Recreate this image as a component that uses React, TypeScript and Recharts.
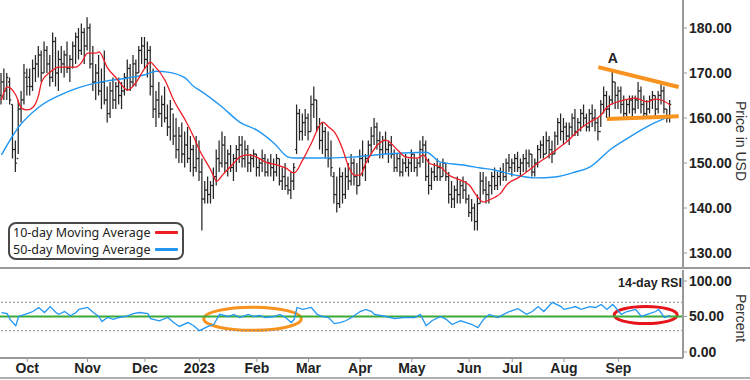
import {
  ComposedChart,
  Bar,
  Line,
  XAxis,
  YAxis,
  ReferenceLine,
  ReferenceArea,
  ReferenceDot,
} from 'recharts';

// daily OHLC, mid Sep 2022 -> mid Sep 2023
const highs = [
  170, 171, 170, 169, 163, 155, 164, 166, 172, 171,
  171, 173, 174, 176, 175, 177, 176, 174, 179, 178,
  175, 176, 175, 177, 174, 177, 179, 180, 181, 180,
  182.4, 181, 176, 172, 174, 171, 175, 167, 168, 169,
  168, 169, 168, 170, 173, 172, 174, 173, 176, 178,
  178, 177, 176, 171, 166, 168, 165, 167, 163, 164,
  161, 160, 158, 159, 157, 158, 156, 154, 156, 155,
  151, 146, 147, 146, 149, 153, 155, 157, 156, 153,
  154, 152, 154, 156, 156, 155, 154, 152, 153, 152,
  151, 153, 152, 151, 152, 151, 152, 151, 149, 150,
  147, 148, 150, 163, 162, 161, 162, 161, 165, 167,
  164, 160, 159, 158, 157, 155, 148, 147, 149, 148,
  149, 150, 152, 151, 150, 153, 155, 152, 155, 158,
  160, 159, 157, 156, 157, 155, 156, 153, 152, 152,
  151, 152, 151, 153, 152, 151, 155, 156, 155, 151,
  149, 150, 151, 150, 151, 150, 148, 146, 145, 147,
  146, 147, 146, 143, 142, 141, 143, 148, 148, 147,
  146, 148, 149, 148, 149, 150, 151, 152, 151, 152,
  152.5, 151, 152, 153, 153, 152, 151, 154, 155, 156,
  157, 156, 155, 157, 160, 161, 160, 159, 159, 161,
  162, 160, 162, 163, 161, 162, 163, 162, 160, 164,
  167, 166, 165, 170.5, 168, 167, 167, 165, 164, 165,
  165, 165, 168, 167, 165, 164, 165, 166, 165, 166,
  167.5, 167, 162, 164,
];
const lows = [
  163, 164, 164, 163, 151, 148, 152, 159, 163, 165,
  165, 166, 168, 169, 168, 170, 170, 167, 168, 167,
  166, 170, 169, 170, 168, 171, 172, 173, 174, 172,
  175, 171, 166, 164, 165, 162, 163, 159, 160, 162,
  162, 163, 162, 165, 166, 166, 167, 167, 170, 172,
  171, 169, 165, 160, 158, 160, 158, 159, 156, 155,
  154, 151, 150, 150, 149, 150, 148, 147, 148, 146,
  135, 141, 141, 141, 142, 145, 148, 149, 148, 147,
  148, 146, 148, 150, 149, 149, 148, 148, 149, 147,
  147, 148, 147, 147, 147, 146, 147, 145, 144, 144,
  143, 142, 144, 152, 155, 155, 156, 155, 157, 160,
  157, 153, 152, 151, 149, 147, 141, 139, 140, 141,
  142, 144, 145, 145, 143, 145, 147, 146, 150, 152,
  154, 153, 151, 151, 152, 150, 151, 148, 148, 147,
  147, 148, 147, 148, 148, 147, 149, 150, 146, 143,
  144, 146, 146, 146, 147, 146, 141, 140, 140, 141,
  141, 142, 141, 138, 137, 135, 135, 141, 143, 141,
  141, 143, 144, 144, 145, 146, 146, 148, 147, 148,
  148, 147, 148, 148, 149, 147, 147, 149, 151, 151,
  152, 151, 150, 152, 154, 155, 154, 155, 154, 156,
  156, 156, 157, 158, 157, 157, 158, 157, 155, 158,
  161, 160, 160, 163, 162, 162, 161, 160, 160, 161,
  160, 161, 162, 161, 160, 160, 161, 162, 160, 161,
  163, 161, 159, 159,
];
const opens = [
  165, 168, 166, 168, 163, 153, 151, 162, 164, 169,
  169, 167, 171, 172, 174, 170, 175, 172, 169, 177,
  170, 173, 172, 174, 171, 173, 176, 178, 175, 179,
  176, 180, 172, 168, 170, 166, 168, 164, 161, 166,
  164, 167, 165, 166, 169, 171, 168, 172, 170, 175,
  176, 173, 175, 167, 162, 164, 161, 163, 160, 158,
  162, 156, 153, 156, 152, 154, 151, 153, 149, 151,
  148, 142, 144, 143, 145, 147, 151, 150, 154, 150,
  152, 149, 151, 153, 154, 151, 153, 150, 151, 152,
  149, 150, 151, 148, 150, 149, 148, 151, 146, 147,
  145, 144, 146, 153, 161, 157, 159, 160, 157, 163,
  164, 158, 155, 157, 153, 151, 147, 143, 141, 147,
  143, 147, 146, 150, 147, 145, 151, 149, 151, 154,
  156, 158, 155, 153, 155, 153, 154, 152, 149, 151,
  148, 150, 149, 150, 152, 149, 150, 153, 154, 147,
  145, 148, 147, 149, 147, 150, 147, 143, 142, 144,
  143, 145, 144, 142, 139, 140, 137, 141, 146, 144,
  143, 145, 147, 145, 147, 148, 147, 150, 149, 150,
  151, 149, 150, 151, 150, 152, 148, 150, 153, 154,
  152, 155, 153, 152, 156, 159, 157, 158, 156, 158,
  160, 157, 159, 161, 160, 158, 161, 160, 159, 157,
  163, 165, 162, 164, 168, 165, 166, 163, 161, 163,
  164, 162, 164, 166, 163, 161, 162, 164, 165, 162,
  165, 166, 162, 160,
];
const closes = [
  168, 166, 169, 164, 153, 150, 162, 164, 170, 167,
  167, 171, 172, 174, 170, 175, 172, 169, 177, 170,
  173, 172, 174, 171, 173, 176, 178, 175, 179, 176,
  180, 172, 168, 170, 166, 168, 164, 161, 166, 164,
  167, 165, 166, 169, 171, 168, 172, 170, 175, 176,
  173, 175, 167, 162, 164, 161, 163, 160, 158, 162,
  156, 153, 156, 152, 154, 151, 153, 149, 151, 148,
  142, 144, 143, 145, 147, 151, 150, 154, 150, 152,
  149, 151, 153, 154, 151, 153, 150, 151, 152, 149,
  150, 151, 148, 150, 149, 148, 151, 146, 147, 145,
  144, 146, 149, 161, 157, 159, 160, 157, 163, 164,
  158, 155, 157, 153, 151, 149, 143, 141, 147, 143,
  147, 146, 150, 147, 145, 151, 149, 151, 154, 156,
  158, 155, 153, 155, 153, 154, 152, 149, 151, 148,
  150, 149, 150, 152, 149, 150, 153, 154, 147, 145,
  148, 147, 149, 147, 150, 147, 143, 142, 144, 143,
  145, 144, 142, 139, 140, 137, 141, 146, 144, 143,
  145, 147, 145, 147, 148, 147, 150, 149, 150, 151,
  149, 150, 151, 150, 152, 148, 150, 153, 154, 152,
  155, 153, 152, 156, 159, 157, 158, 156, 158, 160,
  157, 159, 161, 160, 158, 161, 160, 159, 157, 163,
  165, 162, 164, 168, 165, 166, 163, 161, 163, 164,
  162, 164, 166, 163, 161, 162, 164, 165, 162, 165,
  166, 162, 160, 163,
];

// [bar index, value]
const ma10Points = [
  [0, 164], [2, 166.9], [5, 165.1], [7, 162.2], [9, 161.8], [11, 162.4], [13, 165.2],
  [14, 168], [17, 170.2], [20, 171.3], [23, 171.3], [26, 171.3], [28, 172.4], [30, 174.4],
  [33, 174.4], [34, 174.7], [37, 171.1], [40, 168.9], [44, 166.2], [47, 168], [50, 171.1],
  [52, 172.4], [53, 171.8], [57, 168.4], [60, 164], [64, 159.6], [67, 155.8], [69, 152.9],
  [73, 148.4], [75, 146], [77, 147.3], [81, 150], [83, 151.3], [86, 151.8], [89, 151.3],
  [92, 150.2], [96, 149.6], [99, 148.9], [102, 147.8], [105, 150.7], [108, 154.4],
  [112, 159.1], [114, 158], [116, 156.9], [119, 152.9], [121, 149.1], [123, 147.3],
  [125, 147.3], [127, 150], [129, 152.2], [131, 154], [134, 155.1], [138, 152.9],
  [141, 151.3], [145, 151.1], [147, 151.8], [149, 150], [153, 149.1], [156, 147.3],
  [160, 146.2], [163, 145.1], [166, 142.4], [168, 141.3], [170, 141.8], [172, 142.4],
  [174, 143.3], [176, 145.1], [180, 146.7], [183, 148], [187, 150], [190, 151.3],
  [194, 153.3], [197, 154.7], [202, 157.8], [205, 159.1], [209, 160.7], [211, 162.4],
  [216, 163.8], [221, 164.4], [225, 163.6], [228, 164.2], [230, 164], [233, 162.9],
];
const ma50Points = [
  [0, 151.8], [6, 158], [13, 162.4], [23, 165.8], [33, 167.8], [44, 168.9], [50, 169.6],
  [54, 170.4], [58, 170.2], [64, 168.9], [67, 167], [69, 166.2], [77, 162.4], [83, 159.1],
  [89, 157.3], [95, 154.4], [100, 151.3], [102, 151.1], [110, 151.1], [122, 151.3],
  [134, 152], [148, 152.4], [153, 150.2], [160, 149.6], [167, 148.9], [172, 148.4],
  [179, 147.3], [186, 146.7], [193, 146.9], [200, 148], [205, 149.1], [212, 152.9],
  [219, 155.8], [226, 158.4], [233, 160.4],
];
const rsiPoints = [
  [0, 55.6], [2, 54], [3, 46], [5, 37], [6, 50], [9, 54], [11, 57], [13, 62.7], [15, 55.6],
  [17, 64], [19, 55.6], [20, 53], [22, 57], [24, 51], [26, 55.6], [27, 60], [30, 62.7],
  [32, 55.6], [34, 50], [35, 43], [37, 48.6], [39, 46], [41, 48.6], [44, 51], [46, 54],
  [48, 55.6], [51, 54], [52, 47], [55, 44], [58, 48.6], [60, 41.5], [62, 36], [65, 41.5],
  [67, 37], [69, 30], [72, 36], [74, 38.7], [76, 53], [79, 50], [81, 53], [83, 48.6],
  [86, 53], [88, 50], [90, 51.4], [92, 48.6], [95, 50], [97, 53], [99, 48.6], [101, 41.5],
  [102, 46], [103, 62.7], [105, 60], [108, 62.7], [110, 53], [112, 50], [114, 48.6],
  [116, 40], [118, 41.5], [120, 44], [122, 48.6], [125, 57], [127, 60], [129, 57],
  [130, 53], [134, 50], [137, 47], [140, 48.6], [142, 48.6], [144, 48.6], [146, 53],
  [148, 37], [150, 44], [153, 50], [155, 46], [157, 38.7], [160, 44], [162, 41.5],
  [164, 38.7], [166, 34.4], [168, 46], [170, 53], [173, 48.6], [175, 53], [177, 57],
  [180, 61], [183, 53], [185, 57], [187, 64], [189, 57], [192, 70], [195, 64], [196, 60],
  [199, 62.7], [200, 64], [202, 60], [205, 64], [207, 62.7], [209, 67], [211, 60],
  [213, 67], [214, 62.7], [216, 53], [218, 57], [221, 60], [223, 50], [225, 53],
  [228, 57], [229, 60], [231, 48.6], [233, 51.4],
];

const monthTicks = [9, 30, 50, 69, 89, 107, 125, 143, 163, 178, 196, 215];
const monthLabels = ['Oct', 'Nov', 'Dec', '2023', 'Feb', 'Mar', 'Apr', 'May', 'Jun', 'Jul', 'Aug', 'Sep'];
const priceTicks = [130, 140, 150, 160, 170, 180];
const rsiTicks = [0, 50, 100];

const SLOTS = 238; // a few empty slots after the last bar
const ma10 = new Map(ma10Points.map(([i, v]) => [i, v]));
const ma50 = new Map(ma50Points.map(([i, v]) => [i, v]));
const rsi = new Map(rsiPoints.map(([i, v]) => [i, v]));

const rows = Array.from({ length: SLOTS }, (_, i) => ({
  i,
  high: highs[i],
  low: lows[i],
  open: opens[i],
  close: closes[i],
  ma10: ma10.get(i) ?? null,
  ma50: ma50.get(i) ?? null,
  rsi: rsi.get(i) ?? null,
}));

const FONT = '"Liberation Sans", Arial, sans-serif';
const AXIS = '#9a9a9a';
const ORANGE = '#f7931e';
const tickStyle = { fontFamily: FONT, fontSize: 14, fontWeight: 700, fill: '#222' };

// eslint-disable-next-line @typescript-eslint/no-explicit-any
function OhlcBar(props: any) {
  const { x, y, width, height, payload } = props;
  if (!payload || payload.high == null || height == null) return null;
  const top = Math.min(y, y + height);
  const h = Math.abs(height);
  const k = h / (payload.high - payload.low);
  const cx = x + width / 2;
  const yo = top + (payload.high - payload.open) * k;
  const yc = top + (payload.high - payload.close) * k;
  return (
    <g stroke="#262626" strokeWidth={1.25}>
      <line x1={cx} y1={top} x2={cx} y2={top + h} />
      <line x1={cx - 1.6} y1={yo} x2={cx} y2={yo} />
      <line x1={cx} y1={yc} x2={cx + 1.6} y2={yc} />
    </g>
  );
}

function ellipse(color: string) {
  // eslint-disable-next-line @typescript-eslint/no-explicit-any
  return (p: any) => (
    <ellipse
      cx={p.x + p.width / 2}
      cy={p.y + p.height / 2}
      rx={Math.abs(p.width) / 2}
      ry={Math.abs(p.height) / 2}
      fill="none"
      stroke={color}
      strokeWidth={3}
    />
  );
}

const sideLabel = (text: string, top: number) => (
  <div
    style={{
      position: 'absolute',
      left: 741,
      top,
      transform: 'translate(-50%, -50%) rotate(90deg)',
      fontFamily: FONT,
      fontSize: 14,
      color: '#333',
      whiteSpace: 'nowrap',
    }}
  >
    {text}
  </div>
);

export default function App() {
  return (
    <div
      style={{
        position: 'absolute',
        left: 0,
        top: 0,
        width: 750,
        height: 380,
        background: '#fff',
        overflow: 'hidden',
      }}
    >
      {/* price panel */}
      <div style={{ position: 'absolute', left: 0, top: 0 }}>
        <ComposedChart
          width={750}
          height={268}
          data={rows}
          margin={{ top: 0, right: 0, left: 0, bottom: 0 }}
          barCategoryGap={0}
        >
          <XAxis dataKey="i" type="category" scale="band" hide />
          <YAxis
            orientation="right"
            width={67}
            domain={[126.67, 186.22]}
            ticks={priceTicks}
            allowDataOverflow
            tickFormatter={(v: number) => v.toFixed(2)}
            tick={tickStyle}
            tickSize={4}
            tickMargin={2}
            axisLine={{ stroke: AXIS, strokeWidth: 2 }}
            tickLine={{ stroke: AXIS }}
          />
          <Bar
            dataKey={(d: { high?: number; low?: number }) => (d.high == null ? null : [d.low, d.high])}
            barSize={2}
            shape={OhlcBar}
            activeBar={false}
            isAnimationActive={false}
          />
          <Line
            dataKey="ma50"
            type="monotone"
            stroke="#2196f3"
            strokeWidth={1.4}
            dot={false}
            activeDot={false}
            connectNulls
            isAnimationActive={false}
          />
          <Line
            dataKey="ma10"
            type="monotone"
            stroke="#ee1c25"
            strokeWidth={1.3}
            dot={false}
            activeDot={false}
            connectNulls
            isAnimationActive={false}
          />
          <ReferenceLine
            segment={[{ x: 208, y: 171.3 }, { x: 236, y: 166.9 }]}
            stroke={ORANGE}
            strokeWidth={4}
            ifOverflow="visible"
          />
          <ReferenceLine
            segment={[{ x: 211, y: 159.8 }, { x: 236, y: 160.4 }]}
            stroke={ORANGE}
            strokeWidth={4}
            ifOverflow="visible"
          />
          <ReferenceDot
            x={213}
            y={173.3}
            r={0}
            ifOverflow="visible"
            label={{ value: 'A', position: 'center', fontFamily: FONT, fontSize: 14, fontWeight: 700, fill: '#222' }}
          />
        </ComposedChart>
      </div>

      {/* RSI panel */}
      <div style={{ position: 'absolute', left: 0, top: 268 }}>
        <ComposedChart
          width={750}
          height={112}
          data={rows}
          margin={{ top: 2, right: 0, left: 0, bottom: 0 }}
        >
          <XAxis
            dataKey="i"
            type="category"
            scale="band"
            height={22}
            ticks={monthTicks}
            interval={0}
            tickFormatter={(v: number) => monthLabels[monthTicks.indexOf(v)] ?? ''}
            tick={tickStyle}
            tickSize={4}
            tickMargin={1}
            axisLine={{ stroke: AXIS, strokeWidth: 2 }}
            tickLine={{ stroke: AXIS }}
          />
          <YAxis
            orientation="right"
            width={67}
            domain={[-8.45, 115.5]}
            ticks={rsiTicks}
            allowDataOverflow
            tickFormatter={(v: number) => v.toFixed(2)}
            tick={tickStyle}
            tickSize={4}
            tickMargin={2}
            axisLine={{ stroke: AXIS, strokeWidth: 2 }}
            tickLine={{ stroke: AXIS }}
          />
          <ReferenceLine y={70} stroke="#8c8c8c" strokeDasharray="2 2" />
          <ReferenceLine y={30} stroke="#8c8c8c" strokeDasharray="2 2" />
          <ReferenceLine y={50} stroke="#3aaa35" strokeWidth={2} />
          <Line
            dataKey="rsi"
            type="linear"
            stroke="#2196f3"
            strokeWidth={1.3}
            dot={false}
            activeDot={false}
            connectNulls
            isAnimationActive={false}
          />
          <ReferenceArea x1={71} x2={104} y1={30.5} y2={63} shape={ellipse(ORANGE)} ifOverflow="visible" />
          <ReferenceArea x1={214} x2={235} y1={40} y2={64} shape={ellipse('#e6141b')} ifOverflow="visible" />
        </ComposedChart>
      </div>

      {/* panel separators */}
      <div style={{ position: 'absolute', left: 0, top: 267, width: 750, height: 2, background: AXIS }} />
      <div style={{ position: 'absolute', left: 0, top: 377, width: 750, height: 2, background: '#b0b0b0' }} />

      {sideLabel('Price in USD', 141)}
      {sideLabel('Percent', 318)}

      <div
        style={{
          position: 'absolute',
          left: 618,
          top: 276,
          fontFamily: FONT,
          fontSize: 12.5,
          fontWeight: 700,
          color: '#222',
        }}
      >
        14-day RSI
      </div>

      {/* legend */}
      <div
        style={{
          position: 'absolute',
          left: 8,
          top: 222,
          width: 169,
          height: 34,
          border: '2.5px solid #4a4a4a',
          borderRadius: 8,
          background: '#fff',
          fontFamily: '"Noto Sans", "Open Sans", sans-serif',
          fontSize: 12.5,
          color: '#222',
          lineHeight: '17px',
          padding: '0 0 0 3px',
          boxSizing: 'content-box',
        }}
      >
        {[
          { name: '10-day Moving Average', color: '#ee1c25' },
          { name: '50-day Moving Average', color: '#2196f3' },
        ].map((it) => (
          <div
            key={it.name}
            style={{ display: 'flex', alignItems: 'center', whiteSpace: 'nowrap', height: 17 }}
          >
            <span>{it.name}</span>
            <span
              style={{
                display: 'inline-block',
                width: 23,
                height: 3,
                marginLeft: 4,
                background: it.color,
                borderRadius: 1,
              }}
            />
          </div>
        ))}
      </div>
    </div>
  );
}
